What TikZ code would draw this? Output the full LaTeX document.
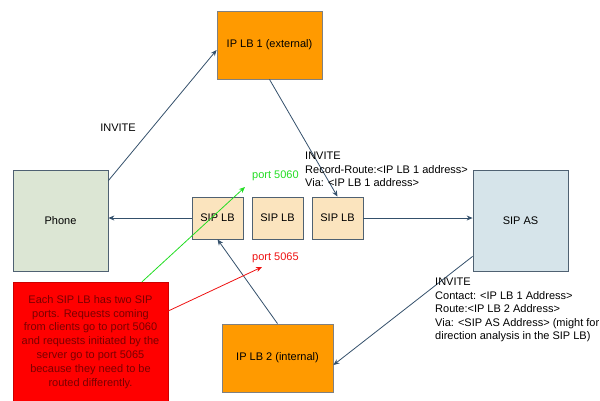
\documentclass[tikz,border=0pt]{standalone}
\usepackage{fontspec}
\setmainfont{Liberation Sans}
\usetikzlibrary{arrows.meta}
\definecolor{FrameGray}{HTML}{4F6172}
\definecolor{FlowBlue}{HTML}{34506B}
\definecolor{PhoneTint}{HTML}{DCE6D4}
\definecolor{ServerTint}{HTML}{D6E4EA}
\definecolor{LbTint}{HTML}{FBE4BE}
\definecolor{IpOrange}{HTML}{FF9A00}
\definecolor{NoteRed}{HTML}{FF0000}
\definecolor{NoteText}{HTML}{7A0000}
\definecolor{PortGreen}{HTML}{22DD22}
\definecolor{PortRed}{HTML}{EE1111}

\begin{document}
\begin{tikzpicture}[x=1pt, y=-1pt,
  every node/.style={font=\fontsize{11}{13.5}\selectfont},
  endpoint/.style={draw=FrameGray, thick, minimum width=95pt, minimum height=101pt},
  lbbox/.style={draw=FrameGray, thick, fill=LbTint, minimum width=51pt, minimum height=42pt},
  iplb/.style={draw=gray, thick, fill=IpOrange, minimum height=68pt},
  flow/.style={draw=FlowBlue, thick, -{Stealth[length=6pt,width=5pt]}},
  msg/.style={align=left, inner sep=0pt}]
  \useasboundingbox (0,0) rectangle (600,400);

  % end points
  \node[endpoint, fill=PhoneTint] (phone) at (60.5,220.5) {Phone};
  \node[endpoint, fill=ServerTint] (sipas) at (520.5,220.5) {SIP AS};

  % load balancers
  \node[lbbox] (lb1) at (217.5,218) {SIP LB};
  \node[lbbox] (lb2) at (277.5,218) {SIP LB};
  \node[lbbox] (lb3) at (337.5,218) {SIP LB};
  \node[iplb, minimum width=105pt] (iplb1) at (269.5,45) {IP LB 1 (external)};
  \node[iplb, minimum width=111pt] (iplb2) at (277.5,358) {IP LB 2 (internal)};

  % messages
  \draw[flow] ([yshift=-11pt]phone.north east) -- ([yshift=-5pt]iplb1.west);
  \draw[flow] (iplb1.south) -- (lb3.north);
  \draw[flow] (lb1.west) -- (lb1.west -| phone.east);
  \draw[flow] (lb3.east) -- (lb3.east -| sipas.west);
  \draw[flow] ([yshift=15pt]sipas.south west) -- ([yshift=-7pt]iplb2.east);
  \draw[flow] (iplb2.north) -- (lb1.south);

  \node (inv1) at (118,128) {INVITE};
  \node[msg, anchor=north west] (inv2) at (305,152)
  {INVITE\\Record-Route:<IP LB 1 address>\\Via: <IP LB 1 address>};
  \node[msg, anchor=north west] (inv3) at (435,278)
  {INVITE\\Contact: <IP LB 1 Address>\\Route:<IP LB 2 Address>\\Via: <SIP AS Address> (might for\\direction analysis in the SIP LB)};

  % port note
  \node[draw=NoteRed!80!black, fill=NoteRed, text=NoteText, align=center,
    font=\fontsize{11}{13.9}\selectfont,
    minimum width=155pt, minimum height=120pt] (note) at (90.5,342)
  {Each SIP LB has two SIP\\ports. Requests coming\\from clients go to port 5060\\and requests initiated by the\\server go to port 5065\\because they need to be\\routed differently.};

  \node[text=PortGreen, anchor=west, inner sep=0pt] (port5060) at (252,176) {port 5060};
  \node[text=PortRed, anchor=west, inner sep=0pt] (port5065) at (252,258) {port 5065};
  \coordinate (tip5060) at (245,187);
  \coordinate (tip5065) at (262,267);
  \draw[PortGreen, thick, -{Stealth[length=6pt,width=5pt]}] ([xshift=51.5pt]note.north) -- (tip5060);
  \draw[PortRed, thick, -{Stealth[length=6pt,width=5pt]}] ([yshift=31pt]note.east) -- (tip5065);
\end{tikzpicture}
\end{document}
